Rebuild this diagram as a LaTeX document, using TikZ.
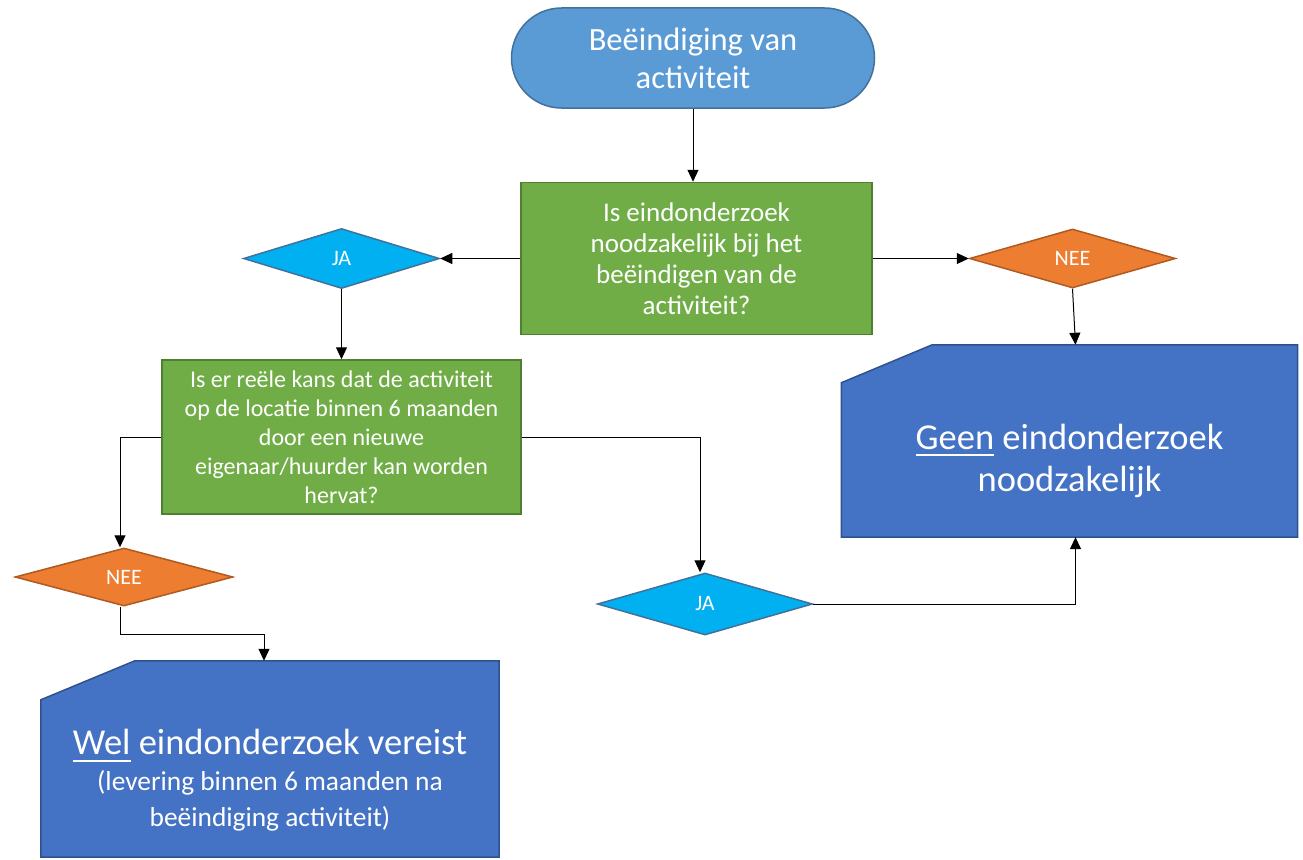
\documentclass[tikz,border=0pt]{standalone}
\usepackage{fontspec}
\setmainfont{Carlito}
\usetikzlibrary{positioning, arrows.meta, shapes.geometric, backgrounds}

\definecolor{startfill}{HTML}{5B9BD5}
\definecolor{startline}{HTML}{41719C}
\definecolor{qfill}{HTML}{70AD47}
\definecolor{qline}{HTML}{507E32}
\definecolor{jafill}{HTML}{00B0F0}
\definecolor{jaline}{HTML}{41719C}
\definecolor{neefill}{HTML}{ED7D31}
\definecolor{neeline}{HTML}{AE5A21}
\definecolor{cardfill}{HTML}{4472C4}
\definecolor{cardline}{HTML}{2F528F}

% underlined word
\newsavebox{\undlbox}
\newcommand{\undl}[1]{\sbox{\undlbox}{#1}\rlap{\rule[-0.2em]{\wd\undlbox}{0.055em}}\usebox{\undlbox}}

\begin{document}
\begin{tikzpicture}[
    x=1pt, y=-1pt,
    every node/.style={text=white, align=center, inner sep=0pt},
    terminal/.style={rectangle, rounded corners=50pt, fill=startfill, draw=startline,
        line width=1.5pt, minimum width=363pt, minimum height=100pt,
        font=\fontsize{32.5}{38}\selectfont},
    question/.style={rectangle, fill=qfill, draw=qline, line width=1.5pt},
    choice/.style={diamond, line width=1.5pt, font=\fontsize{22}{24}\selectfont},
    ja/.style={choice, fill=jafill, draw=jaline},
    nee/.style={choice, fill=neefill, draw=neeline},
    card/.style={rectangle, draw=none},
    cardshape/.style={fill=cardfill, draw=cardline, line width=1.5pt},
    arrow/.style={-{Triangle[length=12pt, width=11pt]}, line width=1pt, black}
]
    \useasboundingbox (0,0) rectangle (1303,859);

    % Nodes
    \node[terminal] (start) at (693,58) {Beëindiging van\\activiteit};
    \node[question, minimum width=351pt, minimum height=152pt,
        font=\fontsize{27}{31}\selectfont] (q1) [below=73pt of start, xshift=3.5pt]
        {Is eindonderzoek\\noodzakelijk bij het\\beëindigen van de\\activiteit?};
    \node[ja, minimum width=196pt, minimum height=60pt] (ja1) [left=80pt of q1] {JA};
    \node[nee, minimum width=206pt, minimum height=59pt] (nee1) [right=96pt of q1] {NEE};
    \node[card, minimum width=456pt, minimum height=192pt] (geen) [below=56pt of nee1, xshift=-3pt] {};
    \node[question, minimum width=359pt, minimum height=154pt,
        font=\fontsize{24}{29}\selectfont] (q2) [below=70pt of ja1]
        {Is er reële kans dat de activiteit\\op de locatie binnen 6 maanden\\door een nieuwe\\eigenaar/huurder kan worden\\hervat?};
    \node[nee, minimum width=218pt, minimum height=58pt] (nee2) at (124,577) {NEE};
    \node[ja, minimum width=215pt, minimum height=62pt] (ja2) at (705,604) {JA};
    \node[card, minimum width=458pt, minimum height=196pt] (wel) at (270,759) {};

    % Card shapes
    \begin{scope}[on background layer]
        \draw[cardshape] (geen.south west) -- (geen.south east) -- (geen.north east)
            -- ([xshift=91pt]geen.north west) -- ([yshift=-38pt]geen.north west) -- cycle;
        \draw[cardshape] (wel.south west) -- (wel.south east) -- (wel.north east)
            -- ([xshift=94pt]wel.north west) -- ([yshift=-39pt]wel.north west) -- cycle;
    \end{scope}
    \node[font=\fontsize{36.5}{43}\selectfont] (geentext) at ([yshift=-20pt]geen.center)
        {\undl{Geen} eindonderzoek\\noodzakelijk};
    \node[font=\fontsize{36.5}{36}\selectfont] (weltext) at ([yshift=-21pt]wel.center)
        {\undl{Wel} eindonderzoek vereist\\
         \fontsize{27.4}{34}\selectfont (levering binnen 6 maanden na\\
         \fontsize{27.4}{34}\selectfont beëindiging activiteit)};

    % Arrows
    \draw[arrow] (start.south) -- (start.south |- q1.north);
    \draw[arrow] (q1) -- (ja1);
    \draw[arrow] (q1) -- (nee1);
    \draw[arrow] (nee1.south) -- ([xshift=6pt]geen.north);
    \draw[arrow] (ja1) -- (q2);
    \draw[arrow] (q2.west) -| ([xshift=-4pt]nee2.north);
    \draw[arrow] ([xshift=-4pt]nee2.south) -- ++(0,28) -| ([xshift=-6pt]wel.north);
    \draw[arrow] (q2.east) -| ([xshift=-5pt]ja2.north);
    \draw[arrow] (ja2.east) -| ([xshift=6pt]geen.south);
\end{tikzpicture}
\end{document}
